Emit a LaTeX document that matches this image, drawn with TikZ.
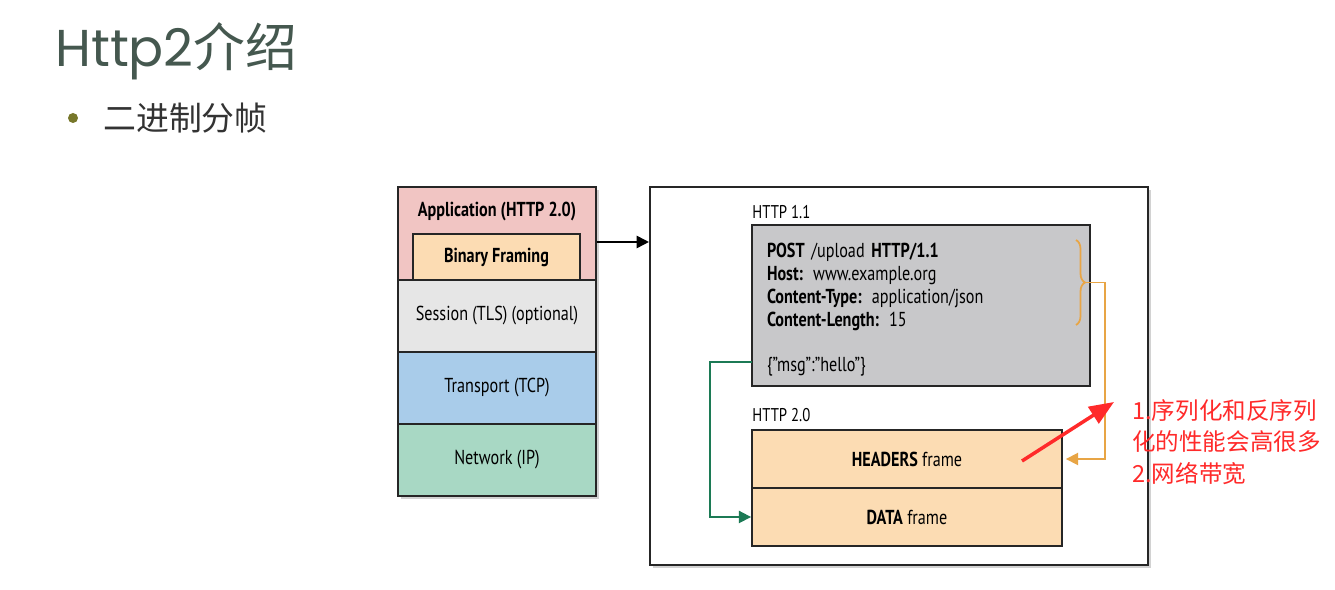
\documentclass[tikz,border=0pt]{standalone}
\usepackage{fontspec}
\setmainfont{PT Sans}[FakeStretch=0.8]
\newfontfamily\cjk{Noto Sans CJK SC}
\newfontfamily\titlefont{Poppins}
\usetikzlibrary{shadows,arrows.meta,decorations.pathreplacing}
\definecolor{apppink}{HTML}{F1C5C3}
\definecolor{peach}{HTML}{FCDCB3}
\definecolor{sessgrey}{HTML}{E6E6E6}
\definecolor{tcpblue}{HTML}{A9CCEA}
\definecolor{ipgreen}{HTML}{A8D8C4}
\definecolor{msggrey}{HTML}{C8C8CA}
\definecolor{braceorange}{HTML}{E8A545}
\definecolor{linkgreen}{HTML}{1C7A55}
\definecolor{notered}{HTML}{FF2A2A}
\definecolor{titlegrey}{HTML}{45584F}
\definecolor{dotolive}{HTML}{77772A}
\tikzstyle{layer} = [rectangle, minimum width=3.96cm, minimum height=1.44cm, text centered,
draw=black!85, line width=1.1pt, font=\fontsize{11.5}{13}\selectfont]
\tikzstyle{lift} = [drop shadow={opacity=0.35, shadow xshift=1.5pt, shadow yshift=-1.5pt}]
\tikzstyle{frame} = [rectangle, minimum width=6.2cm, minimum height=1.16cm, draw=black!85,
line width=1.1pt, fill=peach, font=\fontsize{11.5}{13}\selectfont]
\tikzstyle{tag} = [anchor=west, inner sep=0pt, font=\fontsize{10.5}{12}\selectfont]
\tikzstyle{arrow} = [line width=1pt,-{Triangle[length=7pt,width=7pt]}]

\begin{document}
\begin{tikzpicture}[x=0.02cm, y=-0.02cm, node distance=1.44cm]
\useasboundingbox[fill=white] (0,0) rectangle (1335,590);
% title and bullet
\node (t)[anchor=west, inner sep=0pt, text=titlegrey, font=\fontsize{29.5}{34}\selectfont] at (55,51)
{{\titlefont Http2}{\cjk 介绍}};
\node (d)[circle, fill=dotolive, inner sep=0pt, minimum size=0.2cm] at (73,118) {};
\node (s)[anchor=west, inner sep=0pt, text=black!80, font={\cjk\fontsize{18.7}{22}\selectfont}] at (103,118) {二进制分帧};

% protocol stack
\node (1)[layer, lift, fill=apppink, minimum height=1.86cm] at (497,233.5) {};
\node (a)[font=\bfseries\fontsize{11.5}{13}\selectfont] at (497,212) {Application (HTTP 2.0)};
\node (2)[layer, fill=peach, minimum width=3.34cm, minimum height=0.92cm, font=\bfseries\fontsize{11.5}{13}\selectfont]
at (496.5,257) {Binary Framing};
\node (3)[layer, lift, fill=sessgrey] at (497,316) {Session (TLS) (optional)};
\node (4)[layer, lift, fill=tcpblue, below of=3] {Transport (TCP)};
\node (5)[layer, lift, fill=ipgreen, below of=4] {Network (IP)};

% messages
\node (6)[rectangle, lift, draw=black!85, line width=1.1pt, fill=white, minimum width=9.96cm,
minimum height=7.56cm] at (899,376) {};
\node (7)[tag] at (752,212) {HTTP 1.1};
\node (8)[rectangle, draw=black!85, line width=1.1pt, fill=msggrey, minimum width=6.76cm,
minimum height=3.22cm, text width=6.16cm, inner xsep=0.3cm, align=left,
font=\fontsize{11.5}{13}\selectfont] at (921,305.5)
{\rule{0pt}{13pt}\textbf{POST} /upload \textbf{HTTP/1.1}\\
\textbf{Host:} www.example.org\\
\textbf{Content-Type:} application/json\\
\textbf{Content-Length:} 15\\[13pt]
\{”msg”:”hello”\}};
\node (9)[tag] at (752,415) {HTTP 2.0};
\node (10)[frame] at (907,459) {\textbf{HEADERS} frame};
\node (11)[frame, below of=10, node distance=1.16cm] {\textbf{DATA} frame};

\draw[braceorange, line width=1pt, decorate, decoration={brace, amplitude=0.18cm}] (1076,240) -- (1076,325);
\coordinate (b) at (1086,282.5);
\coordinate (g) at (752,362);
\coordinate (r1) at (1022,461);
\coordinate (r2) at (1114,402);

\draw [arrow](1.east) ++(0,8.5) -- ++(52,0);
\draw [arrow, braceorange](b) -- ++(19,0) |- ([xshift=0.06cm]10.east);
\draw [arrow, linkgreen](g) -- ++(-42,0) |- (11.west);
\draw [notered, line width=2pt, -{Triangle[length=14pt,width=11pt]}](r1) -- (r2);

% note
\node (12)[anchor=north west, inner sep=0pt, align=left, text=notered, font={\cjk\fontsize{13.4}{17.9}\selectfont}]
at (1132,399) {1.序列化和反序列\\化的性能会高很多\\2.网络带宽};
\end{tikzpicture}
\end{document}
